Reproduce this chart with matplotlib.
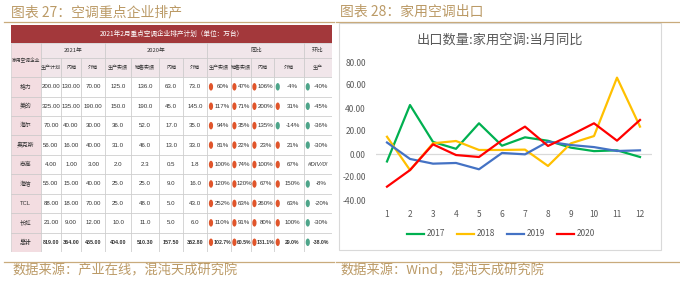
import matplotlib
matplotlib.use('Agg')
import matplotlib.pyplot as plt
import numpy as np
from matplotlib.patches import Rectangle, Ellipse
from matplotlib.lines import Line2D

plt.rcParams['font.family'] = ['Noto Sans CJK SC', 'DejaVu Sans']

# ---------------- data ----------------
companies = ['格力', '美的', '海尔', '奥克斯', '志高', '海信', 'TCL', '长虹', '总计']
plan_2021 = [200.00, 325.00, 70.00, 56.00, 4.00, 55.00, 88.00, 21.00, 819.00]
dom_2021 = [130.00, 135.00, 40.00, 16.00, 1.00, 15.00, 18.00, 9.00, 364.00]
exp_2021 = [70.00, 190.00, 30.00, 40.00, 3.00, 40.00, 70.00, 12.00, 455.00]
prod_2020 = [125.0, 150.0, 36.0, 31.0, 2.0, 25.0, 25.0, 10.0, 404.00]
sales_2020 = [136.0, 190.0, 52.0, 46.0, 2.3, 25.0, 48.0, 11.0, 510.30]
dom_2020 = [63.0, 45.0, 17.0, 13.0, 0.5, 9.0, 5.0, 5.0, 157.50]
exp_2020 = [73.0, 145.0, 35.0, 33.0, 1.8, 16.0, 43.0, 6.0, 352.80]
yoy_prod = [60, 117, 94, 81, 100, 120, 252, 110, 102.7]
yoy_sales = [47, 71, 35, 22, 74, 120, 63, 91, 60.5]
yoy_dom = [106, 200, 135, 23, 100, 67, 260, 80, 131.1]
yoy_exp = [-4, 31, -14, 21, 67, 150, 63, 100, 29.0]
mom_prod = [-40, -45, -36, -30, None, -8, -20, -30, -38]

group_labels = ['2021年', '2020年', '同比', '环比']
sub_labels = ['生产计划', '内销', '外销', '生产实绩', '销售实绩', '内销', '外销',
              '生产实绩', '销售实绩', '内销', '外销', '生产']
table_title = '2021年2月重点空调企业排产计划（单位：万台）'

months = list(range(1, 13))
ac_2017 = [-6.5, 42.6, 10.5, 4.5, 26.7, 7.2, 14.5, 11.5, 5.5, 2.5, 3.2, -2.6]
ac_2018 = [15.0, -14.0, 9.3, 11.3, 3.5, 3.5, 3.8, -10.4, 9.3, 15.6, 66.4, 23.8]
ac_2019 = [10.0, -4.3, -8.4, -7.8, -13.3, 0.9, -0.3, 10.7, 7.8, 6.0, 2.6, 3.2]
ac_2020 = [-28.4, -14.0, 8.4, -0.9, -2.6, 11.9, 23.8, 7.0, 16.5, 26.7, 11.6, 29.6]
series_labels = ['2017', '2018', '2019', '2020']

# ---------------- figure ----------------
W, H = 680, 283
fig = plt.figure(figsize=(6.8, 2.83), dpi=100)


def fx(x):
    return x / W


def fy(y):
    return 1 - y / H


bg = fig.add_axes([0, 0, 1, 1])
bg.set_xlim(0, W)
bg.set_ylim(H, 0)
bg.axis('off')

tan = '#c9ab7c'
title_c = '#bb9a66'
bg.add_line(Line2D([4, 334], [22, 22], color=tan, lw=0.9))
bg.add_line(Line2D([336, 680], [22, 22], color=tan, lw=0.9))
bg.add_line(Line2D([4, 334], [262, 262], color=tan, lw=0.9))
bg.add_line(Line2D([336, 680], [262, 262], color=tan, lw=0.9))
bg.add_patch(Rectangle((339, 23), 322, 227, fill=False, edgecolor='#d9d9d9', lw=0.8))

fig.text(fx(11), fy(12), '图表 27：空调重点企业排产', color=title_c, fontsize=10,
         va='center', ha='left')
fig.text(fx(340), fy(12), '图表 28：家用空调出口', color=title_c, fontsize=10,
         va='center', ha='left')
fig.text(fx(12), fy(271), '数据来源：产业在线，混沌天成研究院', color=title_c, fontsize=9.5,
         va='center', ha='left')
fig.text(fx(340), fy(271), '数据来源：Wind，混沌天成研究院', color=title_c, fontsize=9.5,
         va='center', ha='left')

# ---------------- table ----------------
col_w = [29.7, 20.3, 20, 24.3, 25.4, 28.6, 23.4, 24.6, 23.4, 20, 23.3, 30, 27.7]
row_h = [18, 15, 19] + [19.4] * len(companies)
xe = np.concatenate([[0], np.cumsum(col_w)])
ye = np.concatenate([[0], np.cumsum(row_h)])
TW, TH = xe[-1], ye[-1]

tab = fig.add_axes([fx(11), fy(252), (332 - 11) / W, (252 - 25) / H])
tab.set_xlim(0, TW)
tab.set_ylim(TH, 0)
tab.axis('off')

dark_red = '#a3383b'
pink = '#f3dde1'
head_bg = '#f1e6ea'
edge = '#c4c4c4'
txt_c = '#333333'
num_font = ['Liberation Sans', 'Noto Sans CJK SC']
fs = 4.4
hfs = 3.6


def cell(c0, c1, r0, r1, text, fc, color=txt_c, weight='normal', size=fs, family=None):
    x0, x1 = xe[c0], xe[c1]
    y0, y1 = ye[r0], ye[r1]
    tab.add_patch(Rectangle((x0, y0), x1 - x0, y1 - y0, facecolor=fc,
                            edgecolor=edge, lw=0.4))
    if text:
        kw = {}
        if family:
            kw['family'] = family
        tab.text((x0 + x1) / 2, (y0 + y1) / 2, text, ha='center', va='center',
                 fontsize=size, color=color, fontweight=weight, **kw)


tab.add_patch(Rectangle((0, 0), TW, row_h[0], facecolor=dark_red, edgecolor='none'))
tab.text(TW / 2, row_h[0] / 2, table_title, ha='center', va='center', fontsize=4.8,
         color='white')

cell(0, 1, 1, 3, '家用空调企业', pink, size=3.4)
spans = [(1, 4), (4, 8), (8, 12), (12, 13)]
for (a, b), lab in zip(spans, group_labels):
    cell(a, b, 1, 2, lab, head_bg, size=4.2)
for j, lab in enumerate(sub_labels):
    cell(j + 1, j + 2, 2, 3, lab, head_bg, size=hfs)

num_cols = [plan_2021, dom_2021, exp_2021, prod_2020, sales_2020, dom_2020, exp_2020]
pct_cols = [yoy_prod, yoy_sales, yoy_dom, yoy_exp, mom_prod]
orange = '#e0552b'
green = '#4ea58a'
n = len(companies)
for i, name in enumerate(companies):
    r = i + 3
    total = (i == n - 1)
    w = 'bold' if total else 'normal'
    cell(0, 1, r, r + 1, name, pink, weight=w, size=4.2, family=num_font)
    for j, col in enumerate(num_cols):
        v = col[i]
        if j < 3 or total:
            s = f'{v:.2f}'
        else:
            s = f'{v:.1f}'
        cell(j + 1, j + 2, r, r + 1, s, 'white', weight=w,
             size=(3.9 if total else fs), family=num_font)
    for k, col in enumerate(pct_cols):
        c = 8 + k
        v = col[i]
        cell(c, c + 1, r, r + 1, None, 'white')
        x0, x1 = xe[c], xe[c + 1]
        ym = (ye[r] + ye[r + 1]) / 2
        if v is None:
            tab.text((x0 + x1) / 2, ym, '#DIV/0!', ha='center', va='center',
                     fontsize=fs, color=txt_c, style='italic', family=num_font)
            continue
        s = f'{v:.1f}%' if total else f'{v:.0f}%'
        dc = green if v < 0 else orange
        tab.add_patch(Ellipse((x0 + 3.5, ym), 4.2, 7.5, facecolor=dc, edgecolor='none'))
        tab.text((x0 + 6.5 + x1) / 2, ym, s, ha='center', va='center',
                 fontsize=(3.7 if total else fs), color=txt_c, fontweight=w,
                 family=num_font)

# ---------------- line chart ----------------
fig.text(fx(500), fy(40), '出口数量:家用空调:当月同比', ha='center', va='center',
         fontsize=9.5, color='#595959')

ax = fig.add_axes([fx(375.5), fy(200), 276 / W, 138 / H])
ax.set_xlim(0.5, 12.5)
ax.set_ylim(-40, 80)
for sp in ax.spines.values():
    sp.set_visible(False)
ax.axhline(0, color='#d9d9d9', lw=0.9, zorder=1)
colors = ['#00b050', '#ffc000', '#4472c4', '#ff0000']
for data, c, lab in zip([ac_2017, ac_2018, ac_2019, ac_2020], colors, series_labels):
    ax.plot(months, data, color=c, lw=1.6, label=lab, zorder=3)
ax.set_xticks(months)
ax.set_xticklabels([str(m) for m in months])
yt = [-40, -20, 0, 20, 40, 60, 80]
ax.set_yticks(yt)
ax.set_yticklabels([f'{v:.2f}' for v in yt])
ax.tick_params(length=0, labelsize=6, labelcolor='#595959')
ax.tick_params(axis='y', pad=7)
ax.tick_params(axis='x', pad=7)
ax.patch.set_alpha(0)
leg = fig.legend(loc='center', bbox_to_anchor=(fx(501), fy(234)), ncol=4, frameon=False,
                 fontsize=6, handlelength=2.0, handletextpad=0.3, columnspacing=1.5)
for t in leg.get_texts():
    t.set_color('#595959')

fig.savefig('out.png', dpi=100)
